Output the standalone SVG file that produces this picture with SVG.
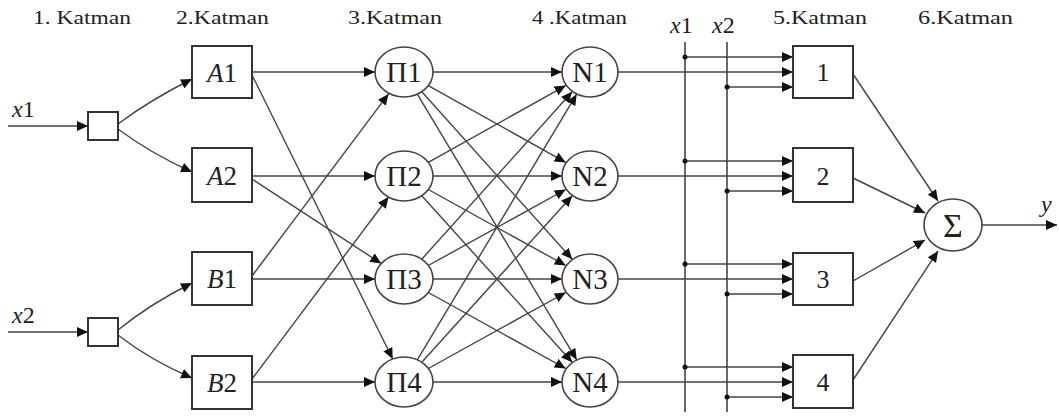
<svg xmlns="http://www.w3.org/2000/svg" width="1059" height="419" viewBox="0 0 1059 419">
<style>
.lbl{font-family:"Liberation Serif","Times New Roman",serif;font-size:18px;fill:#222}
.t{font-family:"Liberation Serif","Times New Roman",serif;fill:#222}
.box{fill:#fff;stroke:#333;stroke-width:2}
.nd{fill:#fff;stroke:#444;stroke-width:1.6}
.c{fill:none;stroke:#444;stroke-width:1.4}
.ca{fill:none;stroke:#444;stroke-width:1.4;marker-end:url(#ah)}
.bus{fill:none;stroke:#444;stroke-width:1.6}
.dot{fill:#111}
</style>
<defs>
<marker id="ah" markerUnits="userSpaceOnUse" markerWidth="12" markerHeight="10" refX="11" refY="5" orient="auto">
<path d="M0,0 L11,5 L0,10 z" fill="#111"/>
</marker>
</defs>
<rect width="1059" height="419" fill="#fff"/>
<g id="labels">
<text class="lbl" x="33" y="24" textLength="98" lengthAdjust="spacingAndGlyphs">1. Katman</text>
<text class="lbl" x="176" y="24" textLength="93" lengthAdjust="spacingAndGlyphs">2.Katman</text>
<text class="lbl" x="348" y="24" textLength="94" lengthAdjust="spacingAndGlyphs">3.Katman</text>
<text class="lbl" x="532" y="24" textLength="95" lengthAdjust="spacingAndGlyphs">4 .Katman</text>
<text class="lbl" x="773" y="24" textLength="94" lengthAdjust="spacingAndGlyphs">5.Katman</text>
<text class="lbl" x="918" y="24" textLength="95" lengthAdjust="spacingAndGlyphs">6.Katman</text>
<text class="t" x="12" y="117" font-size="24"><tspan font-style="italic">x</tspan>1</text>
<text class="t" x="12" y="323" font-size="24"><tspan font-style="italic">x</tspan>2</text>
<text class="t" x="670" y="33" font-size="24"><tspan font-style="italic">x</tspan>1</text>
<text class="t" x="712" y="33" font-size="24"><tspan font-style="italic">x</tspan>2</text>
<text class="t" x="1041" y="212" font-size="24" font-style="italic">y</text>
</g>
<g id="connectors">
<path class="ca" d="M8,126 H88"/>
<path class="ca" d="M8,332 H88"/>
<path class="ca" d="M118,124 Q150,100 192,79"/>
<path class="ca" d="M118,129 Q150,153 192,172"/>
<path class="ca" d="M118,330 Q150,304 192,283"/>
<path class="ca" d="M118,335 Q150,360 192,378"/>
<path class="ca" d="M252,72 H375"/>
<path class="ca" d="M252,176 H375"/>
<path class="ca" d="M252,279 H375"/>
<path class="ca" d="M252,382 H375"/>
<path class="ca" d="M252,75 L392.7,359"/>
<path class="ca" d="M252,179 L381.2,263.5"/>
<path class="ca" d="M252,276 L388.5,93.9"/>
<path class="ca" d="M252,379 L388.5,197"/>
<path class="ca" d="M433,72 H562"/>
<path class="ca" d="M433,176 H562"/>
<path class="ca" d="M433,279 H562"/>
<path class="ca" d="M433,382 H562"/>
<path class="ca" d="M428.3,85.6 L565.7,162.4"/>
<path class="ca" d="M421.8,91.8 L572.2,259.2"/>
<path class="ca" d="M417.3,94.2 L576.7,359.8"/>
<path class="ca" d="M428.3,162.4 L565.7,85.6"/>
<path class="ca" d="M428.3,189.5 L565.7,265.5"/>
<path class="ca" d="M421.8,195.8 L572.2,362.2"/>
<path class="ca" d="M421.8,259.2 L572.2,91.8"/>
<path class="ca" d="M428.3,265.5 L565.7,189.5"/>
<path class="ca" d="M428.3,292.5 L565.7,368.5"/>
<path class="ca" d="M417.3,359.8 L576.7,94.2"/>
<path class="ca" d="M421.8,362.2 L572.2,195.8"/>
<path class="ca" d="M428.3,368.5 L565.7,292.5"/>
<path class="bus" d="M685,42 V412"/>
<path class="bus" d="M727,42 V412"/>
<path class="ca" d="M685,57 H793"/>
<path class="ca" d="M618,72 H793"/>
<path class="ca" d="M727,87 H793"/>
<path class="ca" d="M685,161 H793"/>
<path class="ca" d="M618,176 H793"/>
<path class="ca" d="M727,191 H793"/>
<path class="ca" d="M685,264 H793"/>
<path class="ca" d="M618,279 H793"/>
<path class="ca" d="M727,294 H793"/>
<path class="ca" d="M685,367 H793"/>
<path class="ca" d="M618,382 H793"/>
<path class="ca" d="M727,397 H793"/>
<circle class="dot" cx="685" cy="57" r="2.5"/>
<circle class="dot" cx="727" cy="87" r="2.5"/>
<circle class="dot" cx="685" cy="161" r="2.5"/>
<circle class="dot" cx="727" cy="191" r="2.5"/>
<circle class="dot" cx="685" cy="264" r="2.5"/>
<circle class="dot" cx="727" cy="294" r="2.5"/>
<circle class="dot" cx="685" cy="367" r="2.5"/>
<circle class="dot" cx="727" cy="397" r="2.5"/>
<path class="ca" d="M853,74 L938,201"/>
<path class="ca" d="M853,178 L925,213"/>
<path class="ca" d="M853,281 L925,240"/>
<path class="ca" d="M853,380 L938,251"/>
<path class="ca" d="M982,225 H1057"/>
</g>
<g id="in1"><rect class="box" x="88" y="112" width="30" height="28"/></g>
<g id="in2"><rect class="box" x="88" y="318" width="30" height="28"/></g>
<g id="A1"><rect class="box" x="192" y="46" width="60" height="52"/><text class="t" x="222" y="82" font-size="27" text-anchor="middle"><tspan font-style="italic">A</tspan>1</text></g>
<g id="A2"><rect class="box" x="192" y="148" width="60" height="54"/><text class="t" x="222" y="185" font-size="27" text-anchor="middle"><tspan font-style="italic">A</tspan>2</text></g>
<g id="B1"><rect class="box" x="192" y="252" width="60" height="53"/><text class="t" x="222" y="288" font-size="27" text-anchor="middle"><tspan font-style="italic">B</tspan>1</text></g>
<g id="B2"><rect class="box" x="192" y="356" width="60" height="53"/><text class="t" x="222" y="392" font-size="27" text-anchor="middle"><tspan font-style="italic">B</tspan>2</text></g>
<g id="P1"><ellipse class="nd" cx="404" cy="72" rx="29" ry="25"/><text class="t" x="404" y="82" font-size="29" text-anchor="middle">Π1</text></g>
<g id="P2"><ellipse class="nd" cx="404" cy="176" rx="29" ry="25"/><text class="t" x="404" y="186" font-size="29" text-anchor="middle">Π2</text></g>
<g id="P3"><ellipse class="nd" cx="404" cy="279" rx="29" ry="25"/><text class="t" x="404" y="289" font-size="29" text-anchor="middle">Π3</text></g>
<g id="P4"><ellipse class="nd" cx="404" cy="382" rx="29" ry="25"/><text class="t" x="404" y="392" font-size="29" text-anchor="middle">Π4</text></g>
<g id="N1"><ellipse class="nd" cx="590" cy="72" rx="28" ry="25"/><text class="t" x="590" y="82" font-size="29" text-anchor="middle">N1</text></g>
<g id="N2"><ellipse class="nd" cx="590" cy="176" rx="28" ry="25"/><text class="t" x="590" y="186" font-size="29" text-anchor="middle">N2</text></g>
<g id="N3"><ellipse class="nd" cx="590" cy="279" rx="28" ry="25"/><text class="t" x="590" y="289" font-size="29" text-anchor="middle">N3</text></g>
<g id="N4"><ellipse class="nd" cx="590" cy="382" rx="28" ry="25"/><text class="t" x="590" y="392" font-size="29" text-anchor="middle">N4</text></g>
<g id="R1"><rect class="box" x="793" y="46" width="60" height="52"/><text class="t" x="823" y="81" font-size="26" text-anchor="middle">1</text></g>
<g id="R2"><rect class="box" x="793" y="148" width="60" height="54"/><text class="t" x="823" y="185" font-size="26" text-anchor="middle">2</text></g>
<g id="R3"><rect class="box" x="793" y="253" width="60" height="52"/><text class="t" x="823" y="288" font-size="26" text-anchor="middle">3</text></g>
<g id="R4"><rect class="box" x="793" y="355" width="60" height="53"/><text class="t" x="823" y="391" font-size="26" text-anchor="middle">4</text></g>
<g id="S"><ellipse class="nd" cx="953" cy="225" rx="29" ry="26"/><text class="t" x="953" y="237" font-size="34" text-anchor="middle">Σ</text></g>
</svg>
